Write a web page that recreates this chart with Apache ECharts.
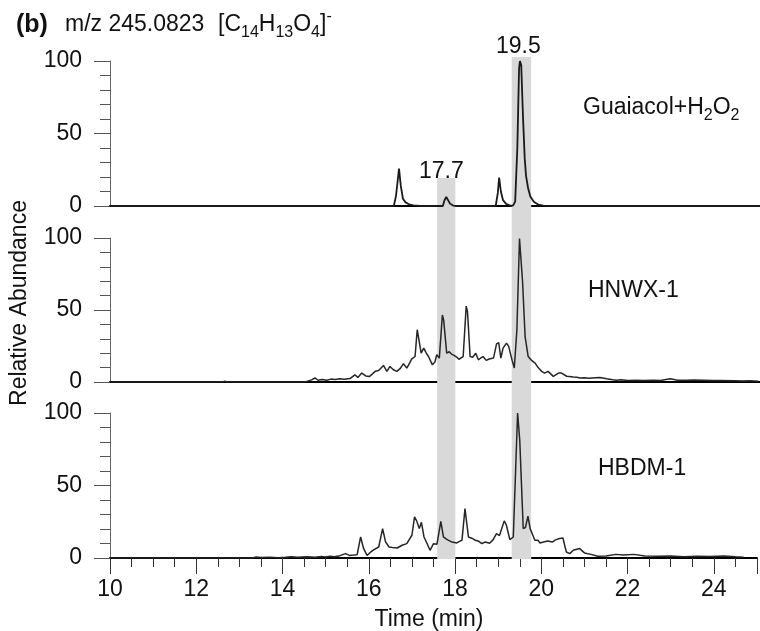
<!DOCTYPE html>
<html>
<head>
<meta charset="utf-8">
<script src="https://cdn.jsdelivr.net/npm/echarts@6/dist/echarts.min.js"></script>
<style>
  html, body { margin: 0; padding: 0; background: #fff; }
  #chart { width: 760px; height: 631px; }
</style>
</head>
<body>
<div id="chart"></div>
<script>
// Guaiacol + H2O2 trace
var timeGuaiacol = [10, 16.55, 16.6, 16.67, 16.71, 16.76, 16.82, 16.9, 17.0, 17.15,
  17.68, 17.72, 17.76, 17.8, 17.85, 17.92, 18.0, 18.9, 18.95, 18.98,
  19.02, 19.07, 19.14, 19.22, 19.3, 19.35, 19.4, 19.44, 19.46, 19.49,
  19.53, 19.57, 19.6, 19.65, 19.7, 19.78, 19.88, 20.0, 20.2, 25];
var absGuaiacol = [0, 0, 7, 25.8, 14, 5, 2.5, 1.2, 0.5, 0,
  0, 4, 6.2, 5, 1.5, 0.3, 0, 0, 9, 19.6,
  10, 4, 1.5, 0.5, 0.3, 3, 40, 95, 100, 97,
  62, 33, 21, 12, 6.5, 3, 1, 0.3, 0, 0];

// HNWX-1 trace
var timeHNWX = [10, 12.6, 12.65, 12.7, 14.5, 14.58, 14.65, 14.73, 14.8, 14.9,
  15.0, 15.1, 15.2, 15.3, 15.4, 15.54, 15.65, 15.72, 15.81, 15.9,
  15.99, 16.05, 16.12, 16.2, 16.31, 16.39, 16.46, 16.54, 16.62, 16.7,
  16.77, 16.85, 16.92, 16.96, 17.04, 17.09, 17.13, 17.18, 17.24, 17.3,
  17.35, 17.44, 17.5, 17.54, 17.6, 17.67, 17.7, 17.77, 17.83, 17.88,
  17.94, 18.0, 18.05, 18.09, 18.15, 18.22, 18.25, 18.31, 18.37, 18.44,
  18.5, 18.55, 18.61, 18.68, 18.75, 18.85, 18.92, 18.97, 19.02, 19.07,
  19.15, 19.2, 19.28, 19.33, 19.39, 19.45, 19.49, 19.52, 19.58, 19.65,
  19.73, 19.81, 19.88, 19.96, 20.03, 20.11, 20.23, 20.35, 20.42, 20.54,
  20.6, 20.69, 20.77, 20.85, 20.95, 21.05, 21.2, 21.31, 21.46, 21.6,
  21.69, 21.8, 21.95, 22.15, 22.3, 22.54, 22.7, 22.93, 23.1, 23.3,
  23.46, 23.7, 23.9, 24.1, 24.42, 24.6, 24.77, 24.96];
var absHNWX = [0, 0, 0.6, 0, 0, 0.8, 1.5, 2.8, 1.2, 1.7,
  1.2, 2.0, 1.8, 2.2, 1.9, 2.4, 5.0, 3.2, 6.2, 4.2,
  3.9, 5.5, 7.4, 8.0, 11.5, 7.4, 10.8, 8.5, 7.4, 9.5,
  12.7, 9.7, 13.5, 15.9, 17.7, 36.3, 36.8, 20, 23.5, 20,
  17.7, 11.9, 14, 18.9, 16.6, 46.5, 43, 20, 21, 19.4,
  18.5, 17.3, 15.8, 15.4, 17.7, 52.7, 48.8, 17.7, 17.2, 20,
  15.4, 16.5, 17.7, 15, 16, 16.6, 26.5, 27.4, 16.6, 23.5,
  27, 24.7, 15, 9.7, 36.3, 99.7, 100, 70, 31.3, 17.7,
  15, 13.1, 10, 7.4, 6.2, 7.4, 3.9, 6.2, 6.2, 4.0,
  3.9, 3.5, 3.3, 2.8, 3.0, 2.6, 3.0, 3.2, 2.3, 1.5,
  1.2, 1.6, 1.0, 1.2, 1.0, 1.2, 1.0, 2.3, 1.2, 1.3,
  1.4, 1.2, 1.0, 1.0, 0.8, 0.7, 0.8, 0.6];

// HBDM-1 trace
var timeHBDM = [10, 13.3, 13.39, 13.5, 13.7, 13.9, 14.07, 14.2, 14.35, 14.57,
  14.75, 14.9, 15.0, 15.1, 15.2, 15.3, 15.46, 15.55, 15.65, 15.73,
  15.81, 15.88, 15.96, 16.04, 16.12, 16.23, 16.32, 16.39, 16.47, 16.55,
  16.66, 16.77, 16.88, 17.0, 17.06, 17.11, 17.17, 17.22, 17.28, 17.35,
  17.42, 17.5, 17.58, 17.67, 17.73, 17.8, 17.85, 17.93, 18.04, 18.1,
  18.16, 18.23, 18.31, 18.4, 18.47, 18.55, 18.62, 18.7, 18.8, 18.88,
  18.96, 19.03, 19.14, 19.19, 19.27, 19.35, 19.45, 19.5, 19.58, 19.63,
  19.69, 19.74, 19.85, 19.92, 19.97, 20.05, 20.15, 20.25, 20.33, 20.42,
  20.5, 20.58, 20.66, 20.74, 20.89, 21.0, 21.15, 21.31, 21.5, 21.73,
  21.9, 22.15, 22.4, 22.7, 23.0, 23.3, 23.62, 23.9, 24.23, 24.5,
  24.69];
var absHBDM = [0, 0, 0.7, 0.3, 0.6, 0.2, 0.5, 0.8, 0.5, 0.8,
  0.6, 1.0, 0.7, 1.2, 0.9, 1.3, 3.0, 1.8, 2.0, 2.3,
  14.5, 6.5, 1.8, 4.0, 5.8, 7.6, 20.3, 11, 7.6, 7.2,
  6.9, 8.8, 9.9, 15.7, 28.3, 25.6, 20.3, 24.6, 14.5, 10,
  5.3, 9.9, 9.5, 25.3, 14.5, 13, 12.2, 11, 10.4, 11.5,
  12.2, 34.1, 14.5, 13.5, 12.2, 11.5, 9.9, 11, 10.2, 12.5,
  16.8, 15.5, 25.6, 22.6, 12.7, 14.5, 100, 81, 20.3, 21,
  28.8, 20.3, 12.2, 12.2, 10.4, 11, 11.7, 11, 12.5, 13.4,
  13.8, 4.1, 3.0, 5.3, 6.5, 3.5, 2.5, 1.2, 1.4, 2.5,
  2.0, 2.5, 1.4, 1.2, 1.4, 0.8, 1.2, 1.0, 1.4, 0.9,
  0.6];

// grey highlight bands (min) and their top (share of the overlay height)
var bandStart = [17.55, 19.27];
var bandEnd = [17.97, 19.72];
var bandTop = [75.9, 100];

var panelNames = ['Guaiacol+H2O2', 'HNWX-1', 'HBDM-1'];
var yTicks = [0, 50, 100];
var xTicks = [10, 12, 14, 16, 18, 20, 22, 24];

function zip(t, v) {
  return t.map(function (x, i) { return [x, v[i]]; });
}

var chart = echarts.init(document.getElementById('chart'), null, { renderer: 'canvas' });
var FONT = 'Liberation Sans, Arial, sans-serif';
var FS = 23;

var gridTops = [61, 238, 413];
var grids = gridTops.map(function (t) {
  return { left: 110, right: 0, top: t, height: 145 };
});
grids[1].height = 144;
grids.push({ left: 110, right: 0, top: 57, height: 502 }); // overlay for bands

function yAxisFor(i) {
  return {
    type: 'value', gridIndex: i, min: yTicks[0], max: yTicks[2], interval: 50,
    axisLine: { show: true, lineStyle: { color: '#666', width: 1 } },
    axisTick: { show: true, length: 16, lineStyle: { color: '#555', width: 1 } },
    minorTick: { show: true, splitNumber: 5, length: 10, lineStyle: { color: '#555', width: 1 } },
    splitLine: { show: false },
    axisLabel: { fontSize: FS, color: '#111', fontFamily: FONT, margin: 28 }
  };
}

function xAxisFor(i) {
  return {
    type: 'value', gridIndex: i, min: 10, max: 25,
    axisLine: { show: true, onZero: false, lineStyle: { color: '#000', width: 2 } },
    axisTick: { show: false },
    axisLabel: { show: false },
    splitLine: { show: false }
  };
}

var xAxes = [xAxisFor(0), xAxisFor(1), {
  type: 'value', gridIndex: 2, min: 10, max: 25, interval: 2, position: 'bottom',
  axisLine: { show: true, onZero: false, lineStyle: { color: '#000', width: 2 } },
  axisTick: { show: true, length: 16, lineStyle: { color: '#333', width: 1 } },
  axisLabel: {
    fontSize: FS, color: '#111', fontFamily: FONT, margin: 20,
    formatter: function (v) { return xTicks.indexOf(v) > -1 ? String(v) : ''; }
  },
  splitLine: { show: false }
}, {
  type: 'value', gridIndex: 2, min: 10, max: 25, interval: 0.5, position: 'bottom',
  axisLine: { show: false },
  axisTick: { show: true, length: 9, lineStyle: { color: '#333', width: 1 } },
  axisLabel: { show: false },
  splitLine: { show: false }
}, {
  type: 'value', gridIndex: 3, min: 10, max: 25, show: false
}];

var yAxes = [yAxisFor(0), yAxisFor(1), yAxisFor(2), {
  type: 'value', gridIndex: 3, min: 0, max: 100, show: false
}];

function traceSeries(name, t, v, axis, width, color) {
  return {
    name: name, type: 'line', xAxisIndex: axis, yAxisIndex: axis,
    data: zip(t, v), showSymbol: false, symbol: 'none', z: 3,
    lineStyle: { color: color, width: width }
  };
}

var bandData = bandStart.map(function (s, i) {
  return [{ xAxis: s, yAxis: 0 }, { xAxis: bandEnd[i], yAxis: bandTop[i] }];
});

function txt(x, y, text, extra) {
  var o = {
    type: 'text', x: x, y: y, z: 10,
    style: { text: text, fontSize: FS, fontFamily: FONT, fill: '#111', verticalAlign: 'middle' }
  };
  if (extra) Object.keys(extra).forEach(function (k) { o.style[k] = extra[k]; });
  return o;
}

var richChem = {
  n: { fontSize: FS, fontFamily: FONT, lineHeight: 32, verticalAlign: 'middle', fill: '#111' },
  s: { fontSize: 16, fontFamily: FONT, lineHeight: 16, verticalAlign: 'bottom', fill: '#111' },
  p: { fontSize: 16, fontFamily: FONT, lineHeight: 16, verticalAlign: 'top', fill: '#111' }
};

chart.setOption({
  animation: false,
  backgroundColor: '#fff',
  grid: grids,
  xAxis: xAxes,
  yAxis: yAxes,
  series: [
    {
      name: 'bands', type: 'line', xAxisIndex: 4, yAxisIndex: 3, data: [], z: -1,
      markArea: { silent: true, itemStyle: { color: '#d9d9d9', opacity: 1 }, data: bandData }
    },
    traceSeries(panelNames[0], timeGuaiacol, absGuaiacol, 0, 1.8, '#1a1a1a'),
    traceSeries(panelNames[1], timeHNWX, absHNWX, 1, 1.5, '#262626'),
    traceSeries(panelNames[2], timeHBDM, absHBDM, 2, 1.5, '#262626')
  ],
  graphic: [
    txt(16, 25, '(b)', { fontWeight: 'bold', fontSize: 25 }),
    txt(65, 25, 'm/z 245.0823'),
    txt(218, 25, '{n|[C}{s|14}{n|H}{s|13}{n|O}{s|4}{n|]}{p|-}', { rich: richChem }),
    txt(583, 108, '{n|Guaiacol+H}{s|2}{n|O}{s|2}', { rich: richChem }),
    txt(588, 291, panelNames[1]),
    txt(598, 469, panelNames[2]),
    txt(496, 47, '19.5'),
    txt(419, 172, '17.7'),
    txt(429, 620, 'Time (min)', { align: 'center' }),
    {
      type: 'text', x: 20, y: 303, rotation: Math.PI / 2, z: 10,
      style: { text: 'Relative Abundance', fontSize: FS, fontFamily: FONT, fill: '#111',
        align: 'center', verticalAlign: 'middle' }
    }
  ]
});
</script>
</body>
</html>
